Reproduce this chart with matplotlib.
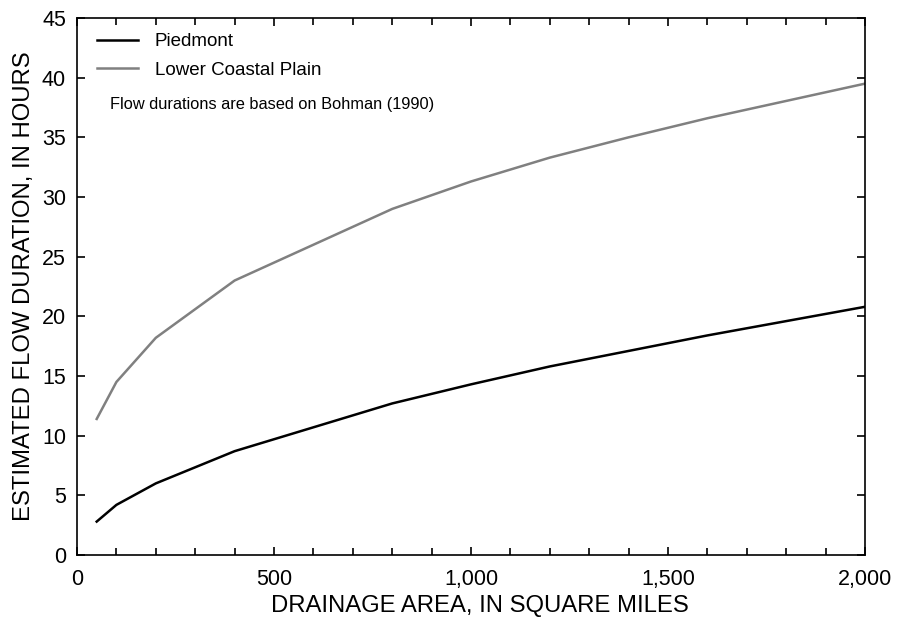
import numpy as np
import matplotlib.pyplot as plt
from matplotlib.ticker import MultipleLocator, FuncFormatter

plt.rcParams['font.family'] = ['Liberation Sans', 'DejaVu Sans']

area = [50, 100, 200, 400, 800, 1000, 1200, 1400, 1600, 2000]
piedmont = [2.8, 4.2, 6.0, 8.7, 12.7, 14.3, 15.8, 17.1, 18.4, 20.8]
coastal = [11.4, 14.5, 18.2, 23.0, 29.0, 31.3, 33.3, 35.0, 36.6, 39.5]

fig = plt.figure(figsize=(8.99, 6.2), dpi=100)
ax = fig.add_axes([77 / 899, 1 - 555 / 620, 788 / 899, 537 / 620])

ax.plot(area, piedmont, color='black', lw=1.8, label='Piedmont')
ax.plot(area, coastal, color='#808080', lw=1.8, label='Lower Coastal Plain')

ax.set_xlim(0, 2000)
ax.set_ylim(0, 45)
ax.xaxis.set_major_locator(MultipleLocator(500))
ax.xaxis.set_minor_locator(MultipleLocator(100))
ax.yaxis.set_major_locator(MultipleLocator(5))
ax.xaxis.set_major_formatter(FuncFormatter(lambda v, p: f'{int(v):,}'))

ax.tick_params(which='both', direction='in', top=True, right=True, labelsize=15.5, width=1.2)
ax.tick_params(which='major', length=6)
ax.tick_params(axis='x', which='major', pad=10)
ax.tick_params(axis='y', which='major', pad=8)
ax.tick_params(which='minor', length=5)
for s in ax.spines.values():
    s.set_linewidth(1.2)

ax.set_xlabel('DRAINAGE AREA, IN SQUARE MILES', fontsize=17.2, labelpad=6)
ax.xaxis.set_label_coords(0.511, -0.075)
ax.set_ylabel('ESTIMATED FLOW DURATION, IN HOURS', fontsize=17.2, labelpad=5)

ax.legend(loc='upper left', frameon=False, fontsize=13.5, handlelength=2.2, handletextpad=0.9,
          labelspacing=0.6, borderpad=0, borderaxespad=0, bbox_to_anchor=(0.025, 0.972))
ax.text(0.042, 0.838, 'Flow durations are based on Bohman (1990)', transform=ax.transAxes,
        fontsize=11.8, va='center')

fig.savefig('out.png', dpi=100)
